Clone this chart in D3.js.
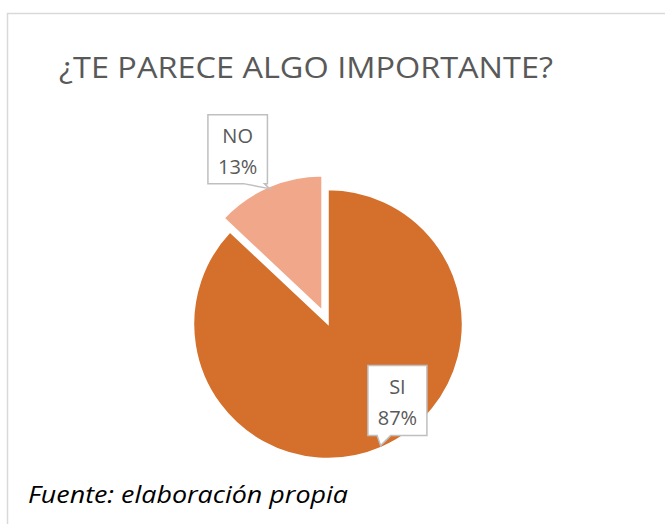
<!DOCTYPE html>
<html><head><meta charset="utf-8">
<script src="https://cdn.jsdelivr.net/npm/d3@7"></script>
<style>
html,body{margin:0;padding:0;background:#fff;}
svg{display:block;}
</style></head>
<body>
<script>
const title = "¿TE PARECE ALGO IMPORTANTE?";
const footer = "Fuente: elaboración propia";
const categories = ["SI", "NO"];
const values = [87, 13];
const colors = ["#d4702c", "#f1a88a"];

const W = 665, H = 524;
const svg = d3.select("body").append("svg").attr("width", W).attr("height", H);

// frame
svg.append("rect").attr("x", 7.5).attr("y", 13.5).attr("width", 700).attr("height", 600)
  .attr("fill", "#fff").attr("stroke", "#d9d9d9").attr("stroke-width", 1.5);

svg.append("text").attr("x", 59).attr("y", 78).text(title)
  .attr("font-family", "Open Sans, Lato, sans-serif").attr("font-size", 29)
  .attr("fill", "#595959").attr("textLength", 494).attr("lengthAdjust", "spacingAndGlyphs");

svg.append("text").attr("x", 28).attr("y", 503).text(footer)
  .attr("font-family", "Open Sans, Lato, sans-serif").attr("font-style", "italic")
  .attr("font-size", 23).attr("fill", "#000").attr("textLength", 320).attr("lengthAdjust", "spacingAndGlyphs");

const cx = 328, cy = 324, R = 134.5;
const explode = [0, 15];
const data = categories.map((c, i) => ({cat: c, value: values[i], color: colors[i], explode: explode[i]}));
const pie = d3.pie().value(d => d.value).sort(null);
const arc = d3.arc().innerRadius(0).outerRadius(R);
const arcs = pie(data);

const g = svg.append("g").attr("transform", `translate(${cx},${cy})`);
arcs.forEach(a => {
  const mid = (a.startAngle + a.endAngle) / 2;
  const ox = Math.sin(mid) * a.data.explode, oy = -Math.cos(mid) * a.data.explode;
  a.ox = ox; a.oy = oy; a.mid = mid;
  g.append("path").attr("d", arc(a)).attr("transform", `translate(${ox},${oy})`)
    .attr("fill", a.data.color).attr("stroke", "#fff").attr("stroke-width", 1.5);
});

// callout label layout (box offsets from the pointer tip)
const boxLayout = {
  SI: {dx: -12.7, dy: -80, w: 59, h: 70, b1: -3.5, b2: 10},
  NO: {dx: -61.5, dy: -74, w: 59.5, h: 69, b1: -26, b2: -5}
};
const total = d3.sum(values);
arcs.forEach(a => {
  const tipx = cx + a.ox + Math.sin(a.mid) * (R - 2);
  const tipy = cy + a.oy - Math.cos(a.mid) * (R - 2);
  const L = boxLayout[a.data.cat];
  const x0 = tipx + L.dx, y0 = tipy + L.dy, x1 = x0 + L.w, y1 = y0 + L.h;
  const p = d3.path();
  p.moveTo(x0, y0); p.lineTo(x1, y0); p.lineTo(x1, y1);
  p.lineTo(tipx + L.b2, y1); p.lineTo(tipx, tipy); p.lineTo(tipx + L.b1, y1);
  p.lineTo(x0, y1); p.closePath();
  svg.append("path").attr("d", p.toString()).attr("fill", "#fff").attr("stroke", "#bfbfbf").attr("stroke-width", 1.5);
  const tx = (x0 + x1) / 2;
  const pct = Math.round(a.data.value / total * 100) + "%";
  svg.append("text").attr("x", tx).attr("y", y0 + 28).attr("text-anchor", "middle").text(a.data.cat)
    .attr("font-family", "Open Sans, Lato, sans-serif").attr("font-size", 20).attr("fill", "#595959");
  svg.append("text").attr("x", tx).attr("y", y0 + 59).attr("text-anchor", "middle").text(pct)
    .attr("font-family", "Open Sans, Lato, sans-serif").attr("font-size", 20).attr("fill", "#595959");
});
</script>
</body></html>
